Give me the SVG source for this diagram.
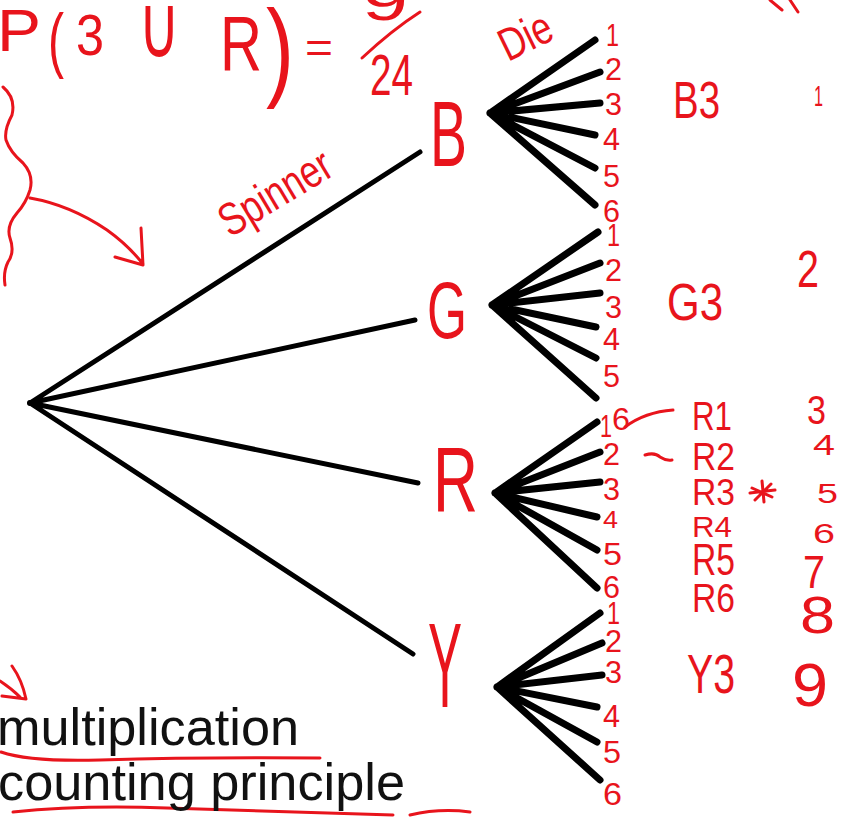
<svg xmlns="http://www.w3.org/2000/svg" width="857" height="817" viewBox="0 0 857 817">
<style>
.h{font-family:"Liberation Sans","DejaVu Sans",sans-serif;fill:#e8141c}
.d{font-size:32px}
.br{stroke:#000;stroke-width:5;stroke-linecap:round;fill:none}
.fan{stroke:#000;stroke-width:7;stroke-linecap:round;fill:none}
.ink{stroke:#e8141c;stroke-width:3;stroke-linecap:round;stroke-linejoin:round;fill:none}
.blk{font-family:"Liberation Sans",Arial,sans-serif;fill:#111;font-size:52px}
</style>
<rect width="857" height="817" fill="#fff"/>

<g id="connectors">
  <path class="br" d="M30 403 L420 152 M30 403 L415 320 M30 403 L418 483 M30 403 L413 654"/>
  <path class="fan" d="M490 113 L595 40 M490 113 L600 72 M490 113 L600 103 M490 113 L595 135 M490 113 L595 168 M490 113 L595 205"/>
  <path class="fan" d="M492 305 L598 232 M492 305 L600 263 M492 305 L600 293 M492 305 L596 327 M492 305 L596 358 M492 305 L596 398"/>
  <path class="fan" d="M495 493 L597 422 M495 493 L600 452 M495 493 L600 482 M495 493 L597 517 M495 493 L597 550 M495 493 L597 588"/>
  <path class="fan" d="M497 687 L600 613 M497 687 L602 643 M497 687 L602 675 M497 687 L597 707 M497 687 L597 742 M497 687 L600 780"/>
  <path class="ink" d="M625 427 Q 645 412 673 410 M645 455 Q 655 452 660 457 Q 666 461 672 460"/>
</g>

<g id="root"><circle cx="30" cy="403" r="3" fill="#000"/></g>

<g id="node-B">
  <text class="h" x="430" y="166" font-size="92" textLength="37" lengthAdjust="spacingAndGlyphs">B</text>
</g>
<g id="node-G">
  <text class="h" x="427" y="338" font-size="80" textLength="40" lengthAdjust="spacingAndGlyphs">G</text>
</g>
<g id="node-R">
  <text class="h" x="433" y="512" font-size="92" textLength="45" lengthAdjust="spacingAndGlyphs">R</text>
</g>
<g id="node-Y">
  <text class="h" x="428" y="707" font-size="120" textLength="34" lengthAdjust="spacingAndGlyphs">Y</text>
</g>

<g id="die-B" class="h d">
  <text x="606" y="46" textLength="13" lengthAdjust="spacingAndGlyphs">1</text>
  <text x="605" y="80" textLength="17" lengthAdjust="spacingAndGlyphs">2</text>
  <text x="605" y="115" textLength="17" lengthAdjust="spacingAndGlyphs">3</text>
  <text x="603" y="150" textLength="17" lengthAdjust="spacingAndGlyphs">4</text>
  <text x="603" y="187" textLength="17" lengthAdjust="spacingAndGlyphs">5</text>
  <text x="603" y="222" textLength="17" lengthAdjust="spacingAndGlyphs">6</text>
</g>
<g id="die-G" class="h d">
  <text x="607" y="246" textLength="13" lengthAdjust="spacingAndGlyphs">1</text>
  <text x="605" y="281" textLength="17" lengthAdjust="spacingAndGlyphs">2</text>
  <text x="605" y="318" textLength="17" lengthAdjust="spacingAndGlyphs">3</text>
  <text x="603" y="350" textLength="17" lengthAdjust="spacingAndGlyphs">4</text>
  <text x="603" y="387" textLength="17" lengthAdjust="spacingAndGlyphs">5</text>
  <text x="612" y="430" textLength="18" lengthAdjust="spacingAndGlyphs">6</text>
</g>
<g id="die-R" class="h d">
  <text x="600" y="437" textLength="12" lengthAdjust="spacingAndGlyphs">1</text>
  <text x="603" y="465" textLength="17" lengthAdjust="spacingAndGlyphs">2</text>
  <text x="603" y="500" textLength="17" lengthAdjust="spacingAndGlyphs">3</text>
  <text x="603" y="528" font-size="24" textLength="15" lengthAdjust="spacingAndGlyphs">4</text>
  <text x="603" y="565" textLength="19" lengthAdjust="spacingAndGlyphs">5</text>
  <text x="603" y="598" textLength="17" lengthAdjust="spacingAndGlyphs">6</text>
</g>
<g id="die-Y" class="h d">
  <text x="607" y="624" textLength="13" lengthAdjust="spacingAndGlyphs">1</text>
  <text x="605" y="652" textLength="17" lengthAdjust="spacingAndGlyphs">2</text>
  <text x="605" y="683" textLength="17" lengthAdjust="spacingAndGlyphs">3</text>
  <text x="603" y="727" textLength="17" lengthAdjust="spacingAndGlyphs">4</text>
  <text x="603" y="763" textLength="18" lengthAdjust="spacingAndGlyphs">5</text>
  <text x="603" y="805" textLength="19" lengthAdjust="spacingAndGlyphs">6</text>
</g>

<g id="outcomes" class="h">
  <text x="673" y="118" font-size="52" textLength="47" lengthAdjust="spacingAndGlyphs">B3</text>
  <text x="667" y="320" font-size="52" textLength="56" lengthAdjust="spacingAndGlyphs">G3</text>
  <text x="692" y="430" font-size="40" textLength="40" lengthAdjust="spacingAndGlyphs">R1</text>
  <text x="692" y="470" font-size="38" textLength="43" lengthAdjust="spacingAndGlyphs">R2</text>
  <text x="692" y="505" font-size="36" textLength="43" lengthAdjust="spacingAndGlyphs">R3</text>
  <text x="692" y="537" font-size="30" textLength="40" lengthAdjust="spacingAndGlyphs">R4</text>
  <text x="692" y="575" font-size="44" textLength="43" lengthAdjust="spacingAndGlyphs">R5</text>
  <text x="692" y="612" font-size="40" textLength="43" lengthAdjust="spacingAndGlyphs">R6</text>
  <text x="687" y="693" font-size="56" textLength="48" lengthAdjust="spacingAndGlyphs">Y3</text>
  <path class="ink" d="M752 488 L772 497 M771 484 L755 500 M762 481 L764 502 M750 493 L775 490"/>
</g>

<g id="counts" class="h">
  <text x="814" y="106" font-size="30" textLength="9" lengthAdjust="spacingAndGlyphs">1</text>
  <text x="797" y="287" font-size="52" textLength="22" lengthAdjust="spacingAndGlyphs">2</text>
  <text x="807" y="424" font-size="40" textLength="19" lengthAdjust="spacingAndGlyphs">3</text>
  <text x="813" y="455" font-size="30" textLength="22" lengthAdjust="spacingAndGlyphs">4</text>
  <text x="817" y="503" font-size="28" textLength="21" lengthAdjust="spacingAndGlyphs">5</text>
  <text x="813" y="543" font-size="28" textLength="22" lengthAdjust="spacingAndGlyphs">6</text>
  <text x="803" y="588" font-size="46" textLength="22" lengthAdjust="spacingAndGlyphs">7</text>
  <text x="800" y="633" font-size="52" textLength="35" lengthAdjust="spacingAndGlyphs">8</text>
  <text x="792" y="706" font-size="62" textLength="36" lengthAdjust="spacingAndGlyphs">9</text>
</g>

<g id="equation" class="h">
  <text x="-3" y="51" font-size="60" textLength="44" lengthAdjust="spacingAndGlyphs">P</text>
  <text x="48" y="64" font-size="72" textLength="16" lengthAdjust="spacingAndGlyphs">(</text>
  <text x="76" y="55" font-size="58" textLength="28" lengthAdjust="spacingAndGlyphs">3</text>
  <text x="138" y="57" font-size="88" textLength="42" lengthAdjust="spacingAndGlyphs">∪</text>
  <text x="220" y="70" font-size="78" textLength="42" lengthAdjust="spacingAndGlyphs">R</text>
  <text x="266" y="86" font-size="110" textLength="28" lengthAdjust="spacingAndGlyphs">)</text>
  <text x="305" y="62" font-size="42" textLength="28" lengthAdjust="spacingAndGlyphs">=</text>
  <text x="362" y="20" font-size="56" textLength="46" lengthAdjust="spacingAndGlyphs">9</text>
  <path class="ink" d="M362 58 Q 392 30 420 12"/>
  <text x="370" y="95" font-size="58" textLength="43" lengthAdjust="spacingAndGlyphs">24</text>
</g>

<g id="labels" class="h">
  <text transform="translate(230 238) rotate(-31)" font-size="46" textLength="124" lengthAdjust="spacingAndGlyphs">Spinner</text>
  <text transform="translate(508 62) rotate(-26)" font-size="46" textLength="54" lengthAdjust="spacingAndGlyphs">Die</text>
</g>

<g id="annotations">
  <path class="ink" d="M3 87 Q 16 98 12 115 Q 4 130 6 140 Q 10 152 23 163 Q 34 175 30 190 Q 26 203 17 213 Q 6 226 10 238 Q 15 252 8 262 Q 3 272 5 285"/>
  <path class="ink" d="M30 198 Q 70 205 107 230 Q 128 245 143 264 M115 257 L143 265 L141 228"/>
  <path class="ink" d="M770 0 L782 10 M790 0 L798 12"/>
  <path class="ink" d="M12 666 Q 22 680 26 699 L 2 696 M0 681 Q 12 689 20 697"/>
  <path class="ink" d="M1 752 Q 30 762 100 760 Q 200 757 320 758"/>
  <path class="ink" d="M13 812 Q 80 805 167 808 Q 280 812 393 815 M410 815 Q 440 808 470 812"/>
</g>

<g id="caption">
  <text class="blk" x="-3" y="745" textLength="302" lengthAdjust="spacingAndGlyphs">multiplication</text>
  <text class="blk" x="-2" y="800" textLength="407" lengthAdjust="spacingAndGlyphs">counting principle</text>
</g>
</svg>
